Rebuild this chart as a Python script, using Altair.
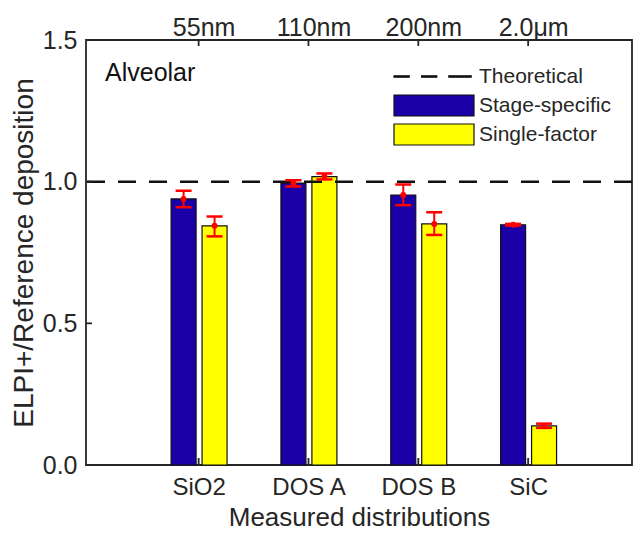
import altair as alt
import pandas as pd

# ---- data ----
categories = ["SiO2", "DOS A", "DOS B", "SiC"]
sizes = ["55nm", "110nm", "200nm", "2.0μm"]
series = ["Stage-specific", "Single-factor"]
stage_mean = [0.939, 0.995, 0.953, 0.848]
stage_lo = [0.910, 0.983, 0.917, 0.845]
stage_hi = [0.968, 1.005, 0.990, 0.851]
single_mean = [0.844, 1.018, 0.851, 0.138]
single_lo = [0.807, 1.008, 0.812, 0.131]
single_hi = [0.877, 1.029, 0.892, 0.146]
theoretical = [1.0]
theoretical_name = "Theoretical"
y_ticks = [0.0, 0.5, 1.0, 1.5]
panel_label = "Alveolar"
y_title = "ELPI+/Reference deposition"
x_title = "Measured distributions"

# ---- layout / style ----
FONT = "Liberation Sans"
TXT = "#262626"
BLUE = "#1a00a6"
YELLOW = "#ffff00"
W, H = 546, 425
offsets = {"Stage-specific": -0.137, "Single-factor": 0.145}

rows = []
for i, cat in enumerate(categories):
    for s, m, lo, hi in (("Stage-specific", stage_mean, stage_lo, stage_hi),
                         ("Single-factor", single_mean, single_lo, single_hi)):
        rows.append({"category": cat, "idx": i + 1, "series": s,
                     "mean": m[i], "lo": lo[i], "hi": hi[i]})
df = pd.DataFrame(rows)
df["pos"] = df["idx"] + df["series"].map(offsets)

x_scale = alt.Scale(domain=[0.02, 4.9], nice=False, zero=False)
y_scale = alt.Scale(domain=[0, 1.5], nice=False)
tick_vals = list(range(1, len(categories) + 1))

cat_expr = "[" + ",".join("'%s'" % c for c in categories) + "][datum.value-1]"
size_expr = "[" + ",".join("'%s'" % c for c in sizes) + "][datum.value-1]"

bottom_axis = alt.Axis(values=tick_vals, labelExpr=cat_expr, title=x_title,
                       orient="bottom", ticks=False,
                       labelPadding=10, labelFontSize=24, titleFontSize=26,
                       titlePadding=5, labelAngle=0)
top_axis = alt.Axis(values=tick_vals, labelExpr=size_expr, title=None,
                    orient="top", ticks=False,
                    labelPadding=0, labelFontSize=25, labelOffset=5, labelAngle=0)
left_axis = alt.Axis(values=y_ticks, format=".1f", title=y_title,
                     orient="left", ticks=False,
                     labelPadding=9, labelFontSize=25, titleFontSize=28,
                     titlePadding=4)

dash_path = ("M-1,-0.016H-0.62V0.016H-1Z M-0.31,-0.016H0.07V0.016H-0.31Z "
             "M0.37,-0.016H0.93V0.016H0.37Z")
rect_path = "M-1,-0.2625H1V0.2625H-1Z"

legend = alt.Legend(
    title=None, orient="none", legendX=307, legendY=22, padding=0,
    symbolType=alt.ExprRef(
        "datum.value === '%s' ? '%s' : '%s'" % (theoretical_name, dash_path, rect_path)),
    symbolSize=6400, clipHeight=29, rowPadding=0, labelOffset=4,
    labelFont=FONT, labelFontSize=21, labelColor=TXT,
    symbolStrokeColor="#111111", symbolStrokeWidth=1.2, symbolOpacity=1,
)

color = alt.Color("series:N",
                  scale=alt.Scale(domain=[theoretical_name] + series,
                                  range=["#111111", BLUE, YELLOW]),
                  legend=legend)

base = alt.Chart(df)


def Y(field):
    return alt.Y(field, scale=y_scale, axis=left_axis)


bars = base.mark_bar(size=25, stroke="#111111", strokeWidth=1.2).encode(
    x=alt.X("pos:Q", scale=x_scale, axis=bottom_axis),
    y=Y("mean:Q"),
    color=color,
)

theo = alt.Chart(pd.DataFrame({"mean": theoretical})).mark_rule(
    color="#111111", strokeWidth=2.5, strokeDash=[18, 13]
).encode(y=Y("mean:Q"))

err = base.mark_rule(color="#ff0000", strokeWidth=2).encode(
    x=alt.X("pos:Q", scale=x_scale, axis=top_axis),
    y=Y("lo:Q"),
    y2="hi:Q",
)
cap_lo = base.mark_tick(orient="horizontal", color="#ff0000", size=16,
                        thickness=2.5, opacity=1).encode(
    x=alt.X("pos:Q", scale=x_scale, axis=None),
    y=Y("lo:Q"),
)
cap_hi = base.mark_tick(orient="horizontal", color="#ff0000", size=16,
                        thickness=2.5, opacity=1).encode(
    x=alt.X("pos:Q", scale=x_scale, axis=None),
    y=Y("hi:Q"),
)
dots = base.mark_circle(color="#ff0000", size=36, opacity=1).encode(
    x=alt.X("pos:Q", scale=x_scale, axis=None),
    y=Y("mean:Q"),
)

# inward axis ticks
xt = alt.Chart(pd.DataFrame({"v": tick_vals}))
tick_bottom = xt.mark_rule(strokeWidth=1.8, color=TXT).encode(
    x=alt.X("v:Q", scale=x_scale, axis=None),
    y=alt.value(H), y2=alt.value(H - 7))
tick_top = xt.mark_rule(strokeWidth=1.8, color=TXT).encode(
    x=alt.X("v:Q", scale=x_scale, axis=None),
    y=alt.value(0), y2=alt.value(6))
tick_left = alt.Chart(pd.DataFrame({"mean": y_ticks})).mark_rule(
    strokeWidth=1.8, color=TXT
).encode(y=Y("mean:Q"), x=alt.value(0), x2=alt.value(6))

label = alt.Chart(pd.DataFrame({"t": [panel_label]})).mark_text(
    align="left", baseline="middle", font=FONT, fontSize=25, color="#111111"
).encode(x=alt.value(19), y=alt.value(33), text="t:N")

chart = alt.layer(bars, theo, err, cap_lo, cap_hi, dots,
                  tick_bottom, tick_top, tick_left, label).resolve_axis(
    x="independent"
).properties(
    width=W, height=H,
    padding={"left": 86, "top": 40, "right": 1, "bottom": 70},
    autosize=alt.AutoSizeParams(type="none"),
).configure_view(
    stroke=TXT, strokeWidth=1.8
).configure_axis(
    domain=False, grid=False, labelFont=FONT, titleFont=FONT,
    labelColor=TXT, titleColor=TXT, tickColor=TXT, tickWidth=1.8,
    titleFontWeight="normal",
)

chart.save("out.html", embed_options={"renderer": "svg", "actions": False})
